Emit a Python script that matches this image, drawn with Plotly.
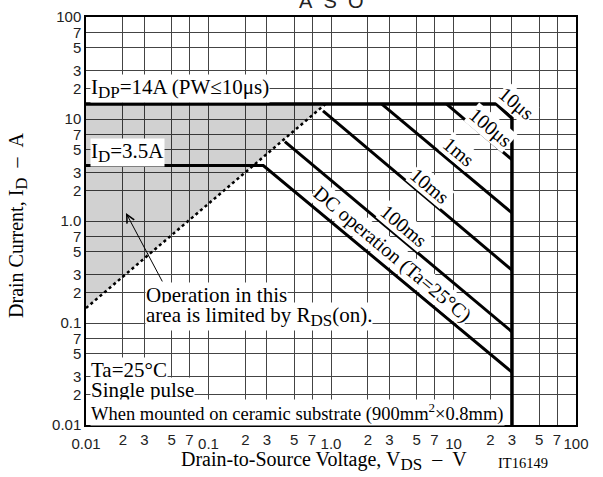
import math
import plotly.graph_objects as go

# ---------------- data ----------------
# tick positions / labels
x_minor_vals = [0.02, 0.03, 0.05, 0.07, 0.2, 0.3, 0.5, 0.7, 2, 3, 5, 7, 20, 30, 50, 70]
x_minor_text = ["2", "3", "5", "7"] * 4
x_decade_vals = [0.01, 0.1, 1, 10, 100]
x_decade_text = ["0.01", "0.1", "1.0", "10", "100"]
y_tick_vals = [0.01, 0.02, 0.03, 0.05, 0.07, 0.1, 0.2, 0.3, 0.5, 0.7,
               1, 2, 3, 5, 7, 10, 20, 30, 50, 70, 100]
y_tick_text = ["0.01", "2", "3", "5", "7", "0.1", "2", "3", "5", "7",
               "1.0", "2", "3", "5", "7", "10", "2", "3", "5", "7", "100"]

# SOA boundary curves (V_DS [V], I_D [A])
env_v = [0.01, 22.5, 30, 30]          # IDP=14A line, 10us, V_DSS limit
env_i = [14, 14, 10.2, 0.01]
dc_v = [0.01, 0.28, 30]               # ID=3.5A + DC operation
dc_i = [3.5, 3.5, 0.033]
ms100_v = [0.42, 30]
ms100_i = [6.0, 0.082]
ms10_v = [0.86, 30]
ms10_i = [12.0, 0.33]
ms1_v = [2.6, 30]
ms1_i = [14, 1.2]
us100_v = [8.8, 30]
us100_i = [14, 4.0]
rds_v = [0.01, 0.9]                   # R_DS(on) limit (dotted)
rds_i = [0.14, 14]
shade_v = [0.01, 0.9, 0.01]
shade_i = [0.14, 14, 14]

# curve labels: text, (V, A) centre
curve_labels = [
    ("10μs", 32.4, 14.2),
    ("100μs", 19.9, 8.2),
    ("1ms", 11.1, 4.74),
    ("10ms", 6.43, 2.2),
    ("100ms", 3.94, 0.89),
    ("DC operation (Ta=25°C)", 3.2, 0.474),
]
SUB = '<sub><span style="font-size:17px">{}</span></sub>'
# free text notes: text, (V, A) left-middle, font size
notes = [
    ("I" + SUB.format("DP") + "=14A (PW≤10μs)", 0.0108, 19.7, 21),
    ("I" + SUB.format("D") + "=3.5A", 0.0108, 4.74, 21),
    ("Operation in this", 0.0303, 0.188, 21),
    ("area is limited by R" + SUB.format("DS") + "(on).", 0.0303, 0.117, 21),
    ("Ta=25°C", 0.0108, 0.0346, 21),
    ("Single pulse", 0.0108, 0.022, 21),
    ("When mounted on ceramic substrate (900mm<sup>2</sup>×0.8mm)", 0.0108, 0.0134, 18.5),
]
arrow_head = (0.0212, 1.2)
arrow_tail = (0.0426, 0.247)

SERIF = "Liberation Serif"
SANS = "Liberation Sans"

fig = go.Figure()

fig.add_trace(go.Scatter(x=shade_v, y=shade_i, fill="toself",
                         fillcolor="rgba(0,0,0,0.18)", mode="lines",
                         line=dict(width=0), hoverinfo="skip", showlegend=False))

for v, i, w in [(env_v, env_i, 3.5), (dc_v, dc_i, 3), (ms100_v, ms100_i, 3),
                (ms10_v, ms10_i, 3), (ms1_v, ms1_i, 3), (us100_v, us100_i, 3)]:
    fig.add_trace(go.Scatter(x=v, y=i, mode="lines",
                             line=dict(color="black", width=w),
                             hoverinfo="skip", showlegend=False))

fig.add_trace(go.Scatter(x=rds_v, y=rds_i, mode="lines",
                         line=dict(color="black", width=2.5, dash="dot"),
                         hoverinfo="skip", showlegend=False))

# invisible trace to carry the decade-label axis
fig.add_trace(go.Scatter(x=[1], y=[1], xaxis="x2", mode="markers",
                         marker=dict(opacity=0), hoverinfo="skip", showlegend=False))

ann = []
for txt, v, i in curve_labels:
    ann.append(dict(x=math.log10(v), y=math.log10(i), xref="x", yref="y",
                    text=txt, showarrow=False, textangle=40,
                    xanchor="center", yanchor="middle",
                    font=dict(family=SERIF, size=20, color="black"),
                    bgcolor="white", borderpad=0))
for txt, v, i, fs in notes:
    ann.append(dict(x=math.log10(v), y=math.log10(i), xref="x", yref="y",
                    text=txt, showarrow=False, xanchor="left", yanchor="middle",
                    font=dict(family=SERIF, size=fs, color="black"),
                    bgcolor="white", borderpad=0))
ann.append(dict(x=math.log10(arrow_head[0]), y=math.log10(arrow_head[1]),
                ax=math.log10(arrow_tail[0]), ay=math.log10(arrow_tail[1]),
                xref="x", yref="y", axref="x", ayref="y", text="",
                showarrow=True, arrowhead=5, arrowsize=1.6, arrowwidth=1,
                arrowcolor="black"))
# title and axis titles
ann.append(dict(x=0.5, y=1, xref="paper", yref="paper", xanchor="center",
                yanchor="middle", yshift=16, text="A\u00a0\u00a0S\u00a0\u00a0O",
                showarrow=False, font=dict(family=SANS, size=20, color="#222")))
ann.append(dict(x=0.486, y=-0.088, xref="paper", yref="paper",
                xanchor="center", yanchor="middle",
                text="Drain-to-Source Voltage, V" + SUB.format("DS") + "\u00a0\u00a0–\u00a0\u00a0V",
                showarrow=False, font=dict(family=SERIF, size=20, color="black")))
ann.append(dict(x=-0.139, y=0.49, xref="paper", yref="paper", textangle=-90,
                xanchor="center", yanchor="middle",
                text="Drain Current, I" + SUB.format("D") + "\u00a0\u00a0–\u00a0\u00a0A",
                showarrow=False, font=dict(family=SERIF, size=20, color="black")))
ann.append(dict(x=0.892, y=-0.094, xref="paper", yref="paper",
                xanchor="center", yanchor="middle",
                text="IT16149", showarrow=False,
                font=dict(family=SERIF, size=14.5, color="black")))

grid_col = "#444"
fig.update_layout(
    width=603, height=477,
    margin=dict(l=86, r=27, t=17, b=52, autoexpand=False),
    paper_bgcolor="white", plot_bgcolor="white",
    showlegend=False,
    annotations=ann,
    xaxis=dict(type="log", range=[-2, 2], automargin=False,
               tickvals=x_minor_vals + x_decade_vals,
               ticktext=x_minor_text + [""] * len(x_decade_vals),
               showgrid=True, gridcolor=grid_col, gridwidth=1,
               showline=True, mirror=True, linecolor="black", linewidth=1.5,
               ticks="", ticklen=0, zeroline=False,
               tickfont=dict(family=SANS, size=15, color="#222")),
    xaxis2=dict(type="log", range=[-2, 2], overlaying="x", side="bottom",
                anchor="y", automargin=False,
                tickvals=x_decade_vals, ticktext=x_decade_text,
                showgrid=False, showline=False, zeroline=False,
                ticks="outside", ticklen=5, tickcolor="rgba(0,0,0,0)",
                tickfont=dict(family=SANS, size=15, color="#222")),
    yaxis=dict(type="log", range=[-2, 2], automargin=False,
               tickvals=y_tick_vals, ticktext=y_tick_text,
               showgrid=True, gridcolor=grid_col, gridwidth=1,
               showline=True, mirror=True, linecolor="black", linewidth=1.5,
               ticks="", zeroline=False,
               tickfont=dict(family=SANS, size=15, color="#222")),
)

# page without the default body margin so the figure starts at the window corner
fig.write_html("out.html",
               config={"displayModeBar": False},
               post_script="document.body.style.margin='0';")
